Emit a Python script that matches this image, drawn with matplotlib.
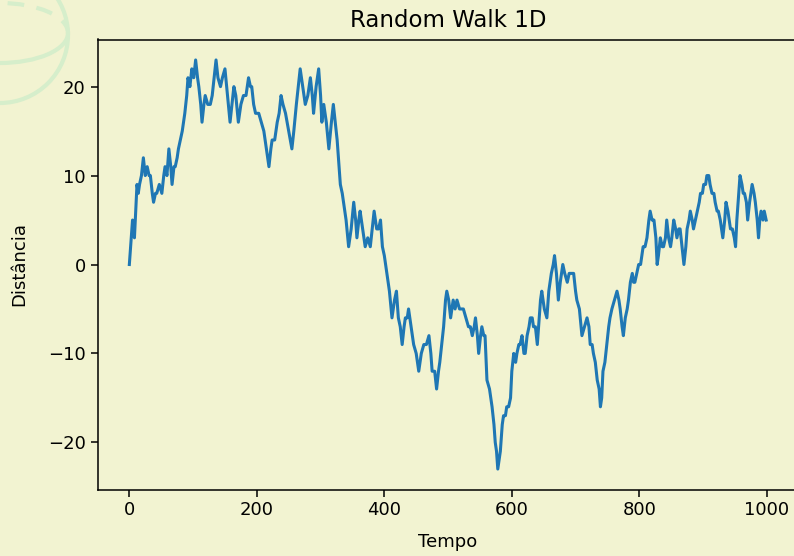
import matplotlib.pyplot as plt
from matplotlib.patches import Circle, Arc

# ==========================================
# 1. dados (passo, distância)
# ==========================================
tempo = [
    0, 3, 5, 7, 8, 10, 12, 14, 16, 19, 22, 25, 28, 31, 33, 36, 38, 41, 43, 47,
    51, 54, 56, 59, 62, 65, 67, 70, 72, 75, 77, 80, 83, 85, 87, 90, 92, 95, 98, 101,
    104, 107, 109, 112, 114, 117, 119, 123, 127, 130, 133, 136, 139, 143, 146, 150, 154, 158, 161, 164,
    167, 171, 175, 179, 183, 187, 190, 192, 195, 198, 203, 207, 211, 215, 219, 222, 224, 228, 232, 235,
    238, 241, 245, 250, 255, 258, 262, 265, 268, 272, 276, 280, 284, 287, 289, 293, 297, 300, 302, 305,
    309, 313, 317, 320, 323, 326, 329, 331, 334, 336, 340, 344, 348, 352, 355, 357, 360, 362, 366, 370,
    374, 378, 381, 384, 388, 391, 394, 397, 400, 404, 408, 412, 416, 419, 422, 425, 428, 431, 433, 436,
    438, 442, 446, 450, 454, 458, 462, 466, 470, 473, 475, 479, 482, 485, 487, 490, 493, 496, 498, 501,
    504, 508, 511, 514, 518, 521, 524, 528, 532, 535, 538, 541, 543, 546, 548, 551, 553, 556, 558, 561,
    565, 569, 572, 574, 576, 578, 580, 582, 585, 587, 590, 592, 595, 598, 600, 603, 606, 608, 611, 613,
    616, 619, 621, 624, 627, 629, 632, 634, 637, 640, 643, 645, 647, 651, 655, 658, 662, 665, 667, 670,
    673, 676, 680, 683, 687, 690, 694, 697, 700, 702, 706, 710, 714, 718, 721, 723, 726, 728, 731, 734,
    737, 739, 741, 743, 746, 749, 752, 754, 757, 761, 765, 768, 770, 773, 775, 778, 781, 783, 786, 789,
    791, 793, 796, 799, 802, 806, 809, 812, 815, 817, 820, 823, 826, 828, 830, 833, 836, 838, 841, 843,
    846, 849, 851, 854, 857, 859, 862, 864, 867, 870, 873, 875, 878, 880, 883, 885, 888, 891, 894, 896,
    899, 901, 904, 906, 909, 911, 914, 917, 919, 922, 924, 927, 929, 931, 934, 936, 939, 941, 943, 946,
    949, 951, 953, 956, 958, 961, 963, 965, 968, 970, 973, 975, 977, 980, 982, 985, 987, 989, 991, 994,
    996, 999,
]
distancia = [
    0, 3, 5, 4, 3, 6, 9, 8, 9, 10, 12, 10, 11, 10, 10, 8, 7, 8, 8, 9,
    8, 10, 11, 10, 13, 11, 9, 11, 11, 12, 13, 14, 15, 16, 17, 19, 21, 20, 22, 21,
    23, 21, 20, 18, 16, 18, 19, 18, 18, 19, 21, 23, 21, 20, 21, 22, 19, 16, 18, 20,
    19, 16, 18, 19, 19, 21, 20, 20, 18, 17, 17, 16, 15, 13, 11, 13, 14, 14, 16, 17,
    19, 18, 17, 15, 13, 15, 18, 20, 22, 20, 18, 19, 21, 19, 17, 20, 22, 19, 16, 18,
    16, 13, 16, 18, 16, 14, 11, 9, 8, 7, 5, 2, 4, 7, 5, 3, 5, 6, 4, 2,
    3, 2, 4, 6, 4, 4, 5, 2, 1, -1, -3, -6, -4, -3, -6, -7, -9, -7, -6, -6,
    -5, -7, -9, -10, -12, -10, -9, -9, -8, -10, -12, -12, -14, -12, -11, -9, -7, -4, -3, -4,
    -6, -4, -5, -4, -5, -5, -5, -6, -7, -7, -8, -7, -6, -8, -10, -8, -7, -8, -8, -13,
    -14, -16, -18, -20, -21, -23, -22, -21, -18, -17, -17, -16, -16, -15, -12, -10, -11, -10, -9, -9,
    -8, -10, -10, -8, -7, -6, -6, -7, -7, -9, -6, -4, -3, -5, -6, -3, -1, 0, 1, -1,
    -4, -2, 0, -1, -2, -1, -1, -1, -3, -4, -5, -8, -7, -6, -7, -9, -9, -10, -11, -13,
    -14, -16, -15, -12, -11, -9, -7, -6, -5, -4, -3, -4, -5, -7, -8, -6, -5, -4, -2, -1,
    -2, -2, -1, 0, 0, 2, 2, 3, 5, 6, 5, 5, 3, 0, 1, 3, 2, 2, 3, 5,
    3, 2, 3, 5, 4, 3, 4, 4, 2, 0, 2, 4, 5, 6, 5, 4, 5, 6, 7, 8,
    8, 9, 9, 10, 10, 9, 8, 8, 7, 6, 6, 5, 4, 3, 5, 7, 6, 5, 4, 4,
    3, 2, 5, 8, 10, 9, 8, 8, 7, 5, 7, 8, 9, 8, 7, 5, 3, 5, 6, 5,
    6, 5,
]

titulo = "Random Walk 1D"
rotulo_x = "Tempo"
rotulo_y = "Distância"
xticks = [0, 200, 400, 600, 800, 1000]
yticks = [-20, -10, 0, 10, 20]

fundo = "#f2f3d1"
azul = "#1f77b4"

# ==========================================
# 2. figura (794x556 px) - o eixo passa da borda direita (print cortado)
# ==========================================
fig = plt.figure(figsize=(7.94, 5.56), dpi=100, facecolor=fundo)

# enfeite verde claro no canto superior esquerdo (coordenadas em pixels)
deco = fig.add_axes([0, 0, 1, 1], zorder=0)
deco.set_xlim(0, 794)
deco.set_ylim(556, 0)
deco.axis("off")
verde = "#d6eecb"
deco.add_patch(Circle((0, 35), 68, fill=False, ec=verde, lw=3))
# metade de baixo contínua, metade de cima tracejada (eixo y invertido)
deco.add_patch(Arc((0, 33), 136, 60, theta1=0, theta2=180, ec=verde, lw=3))
deco.add_patch(Arc((0, 33), 136, 60, theta1=180, theta2=360, ec=verde, lw=3,
                   ls=(0, (4, 3))))

ax = fig.add_axes([97.5 / 794, 66.5 / 556, 700.5 / 794, 450 / 556], zorder=1)
ax.set_facecolor(fundo)

ax.plot(tempo, distancia, color=azul, lw=2.2)

ax.set_title(titulo, fontsize=16.5, pad=9)
ax.set_xlabel(rotulo_x, fontsize=13, labelpad=10)
ax.set_ylabel(rotulo_y, fontsize=13, labelpad=14)
ax.set_xticks(xticks)
ax.set_yticks(yticks)
ax.tick_params(labelsize=13, length=5, width=1.1)
for s in ax.spines.values():
    s.set_linewidth(1.1)

fig.savefig("out.png", dpi=100, facecolor=fundo)
